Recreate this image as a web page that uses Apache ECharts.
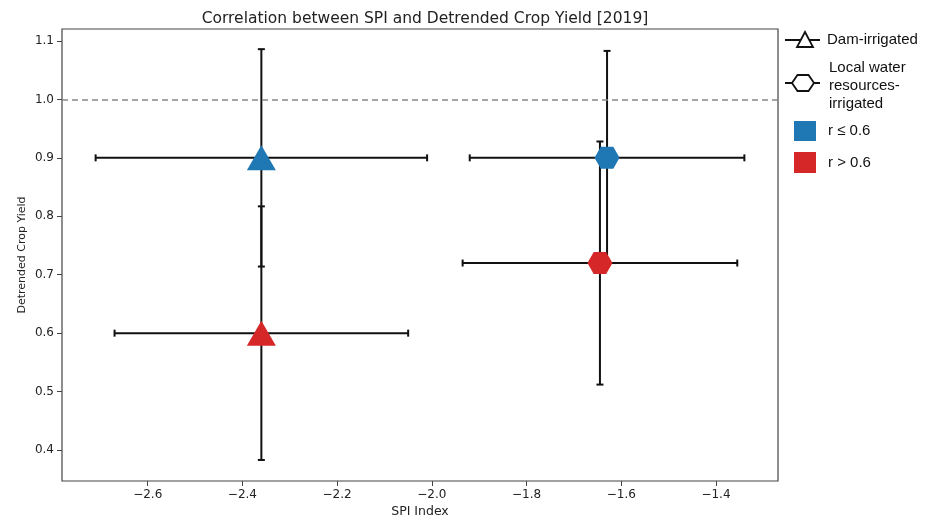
<!DOCTYPE html>
<html>
<head>
<meta charset="utf-8">
<script src="https://cdn.jsdelivr.net/npm/echarts@6/dist/echarts.min.js"></script>
<style>html,body{margin:0;padding:0;background:#fff}#chart{width:935px;height:517px}</style>
</head>
<body>
<div id="chart"></div>
<script>
// ---- data ----
const pointNames = ['Dam-irrigated, r ≤ 0.6', 'Dam-irrigated, r > 0.6', 'Local water resources-irrigated, r ≤ 0.6', 'Local water resources-irrigated, r > 0.6'];
const spiValues = [-2.36, -2.36, -1.63, -1.645];
const yieldValues = [0.900, 0.600, 0.900, 0.720];
const spiErrors = [0.35, 0.31, 0.29, 0.29];
const yieldErrors = [0.186, 0.217, 0.183, 0.208];
const irrigationTypes = ['dam', 'dam', 'local', 'local'];
const correlationGroups = ['low', 'high', 'low', 'high'];
const xTicks = [-2.6, -2.4, -2.2, -2.0, -1.8, -1.6, -1.4];
const yTicks = [0.4, 0.5, 0.6, 0.7, 0.8, 0.9, 1.0, 1.1];
const referenceLine = 1.0;
const legendLabels = ['Dam-irrigated', 'Local water\nresources-\nirrigated', 'r ≤ 0.6', 'r > 0.6'];

// ---- style ----
const groupColors = { low: '#1f77b4', high: '#d62728' };
const hexPath = 'path://M0,433 L250,0 L750,0 L1000,433 L750,866 L250,866 Z';
const symbols = { dam: 'triangle', local: hexPath };
const symbolSizes = { dam: [29, 25], local: [25, 22] };
const fmt = v => (v < 0 ? '\u2212' : '') + Math.abs(v).toFixed(1);

const chart = echarts.init(document.getElementById('chart'), null, { renderer: 'canvas' });

const errData = spiValues.map((x, i) => [x, yieldValues[i], spiErrors[i], yieldErrors[i]]);
const markerData = spiValues.map((x, i) => ({
  name: pointNames[i],
  value: [x, yieldValues[i]],
  symbol: symbols[irrigationTypes[i]],
  symbolSize: symbolSizes[irrigationTypes[i]],
  itemStyle: { color: groupColors[correlationGroups[i]] }
}));

const legendFont = 'Liberation Sans, Arial, sans-serif';
const option = {
  animation: false,
  backgroundColor: '#fff',
  title: {
    text: 'Correlation between SPI and Detrended Crop Yield [2019]',
    left: 420, top: 6, textAlign: 'center',
    textStyle: { fontFamily: 'DejaVu Sans', fontSize: 15.5, fontWeight: 'normal', color: '#222' }
  },
  grid: { left: 62, right: 157, top: 29, bottom: 36, outerBoundsMode: 'none', containLabel: false, show: true, borderColor: '#444', borderWidth: 1.2, backgroundColor: 'transparent' },
  xAxis: {
    type: 'value', min: -2.781, max: -1.269,
    name: 'SPI Index', nameLocation: 'middle', nameGap: 24, nameMoveOverlap: false,
    nameTextStyle: { fontFamily: 'DejaVu Sans', fontSize: 12.5, color: '#222' },
    axisLine: { show: false },
    splitLine: { show: false },
    axisTick: { show: true, length: 5, customValues: xTicks, lineStyle: { color: '#444', width: 1 } },
    axisLabel: { customValues: xTicks, formatter: fmt, fontFamily: 'DejaVu Sans', fontSize: 12, color: '#222', margin: 8 }
  },
  yAxis: {
    type: 'value', min: 0.347, max: 1.1205,
    name: 'Detrended Crop Yield', nameLocation: 'middle', nameGap: 34, nameMoveOverlap: false,
    nameTextStyle: { fontFamily: 'DejaVu Sans', fontSize: 11, color: '#222' },
    axisLine: { show: false },
    splitLine: { show: false },
    axisTick: { show: true, length: 5, customValues: yTicks, lineStyle: { color: '#444', width: 1 } },
    axisLabel: { customValues: yTicks, formatter: fmt, fontFamily: 'DejaVu Sans', fontSize: 12, color: '#222', margin: 8 }
  },
  series: [
    {
      type: 'custom',
      name: 'errorbars',
      data: errData,
      encode: { x: 0, y: 1 },
      z: 2,
      silent: true,
      renderItem: function (params, api) {
        const x = api.value(0), y = api.value(1), xe = api.value(2), ye = api.value(3);
        const l = api.coord([x - xe, y]), r = api.coord([x + xe, y]);
        const t = api.coord([x, y + ye]), b = api.coord([x, y - ye]);
        const c = 3.5;
        const st = { stroke: '#111', lineWidth: 2, fill: null };
        const line = (x1, y1, x2, y2) => ({ type: 'line', shape: { x1, y1, x2, y2 }, style: st });
        return {
          type: 'group',
          children: [
            line(l[0], l[1], r[0], r[1]),
            line(t[0], t[1], b[0], b[1]),
            line(l[0], l[1] - c, l[0], l[1] + c),
            line(r[0], r[1] - c, r[0], r[1] + c),
            line(t[0] - c, t[1], t[0] + c, t[1]),
            line(b[0] - c, b[1], b[0] + c, b[1])
          ]
        };
      },
      markLine: {
        silent: true, symbol: 'none', label: { show: false },
        lineStyle: { color: '#888', type: [6, 4], width: 1.5 },
        data: [{ yAxis: referenceLine }]
      }
    },
    {
      type: 'scatter',
      name: 'markers',
      data: markerData,
      z: 5,
      silent: true,
      itemStyle: { opacity: 1 }
    }
  ],
  graphic: [
    // Dam-irrigated
    { type: 'line', shape: { x1: 785, y1: 40, x2: 820, y2: 40 }, style: { stroke: '#111', lineWidth: 1.8 } },
    { type: 'polygon', shape: { points: [[805, 32], [797, 47], [813, 47]] }, style: { fill: '#fff', stroke: '#111', lineWidth: 1.8 } },
    { type: 'text', x: 827, y: 40, style: { text: legendLabels[0], fontFamily: legendFont, fontSize: 15, fill: '#111', verticalAlign: 'middle' } },
    // Local water
    { type: 'line', shape: { x1: 785, y1: 83, x2: 820, y2: 83 }, style: { stroke: '#111', lineWidth: 1.8 } },
    { type: 'polygon', shape: { points: [[792, 83], [797.5, 75], [808.5, 75], [814, 83], [808.5, 91], [797.5, 91]] }, style: { fill: '#fff', stroke: '#111', lineWidth: 1.8 } },
    { type: 'text', x: 829, y: 86, style: { text: legendLabels[1], fontFamily: legendFont, fontSize: 15, lineHeight: 18, fill: '#111', verticalAlign: 'middle' } },
    // r <= 0.6
    { type: 'rect', shape: { x: 794, y: 121, width: 22, height: 20 }, style: { fill: groupColors.low } },
    { type: 'text', x: 828, y: 131, style: { text: legendLabels[2], fontFamily: legendFont, fontSize: 15, fill: '#111', verticalAlign: 'middle' } },
    // r > 0.6
    { type: 'rect', shape: { x: 794, y: 152, width: 22, height: 21 }, style: { fill: groupColors.high } },
    { type: 'text', x: 828, y: 163, style: { text: legendLabels[3], fontFamily: legendFont, fontSize: 15, fill: '#111', verticalAlign: 'middle' } }
  ]
};
chart.setOption(option);
</script>
</body>
</html>
